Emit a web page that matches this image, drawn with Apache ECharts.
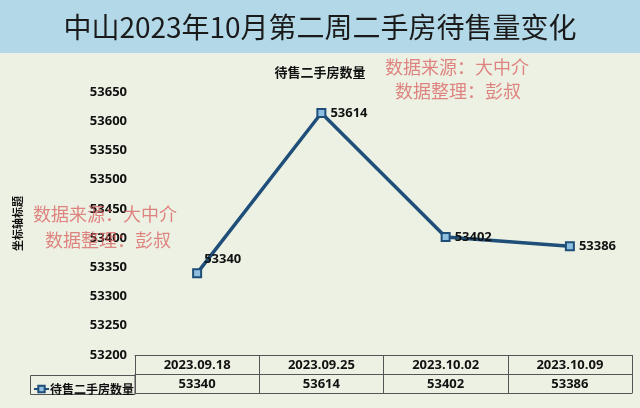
<!DOCTYPE html>
<html><head><meta charset="utf-8">
<script src="https://cdn.jsdelivr.net/npm/echarts@6/dist/echarts.min.js"></script>
<style>html,body{margin:0;padding:0;background:#edf1e3;}#c{width:640px;height:408px;}</style>
</head><body><div id="c"></div>
<script>
const categories = ['2023.09.18', '2023.09.25', '2023.10.02', '2023.10.09'];
const seriesName = '待售二手房数量';
const values = [53340, 53614, 53402, 53386];
const yTicks = { min: 53200, max: 53650, interval: 50 };
const mainTitle = '中山2023年10月第二周二手房待售量变化';
const yAxisTitle = '坐标轴标题';
const wm1 = '数据来源：大中介';
const wm2 = '数据整理：彭叔';

const chart = echarts.init(document.getElementById('c'));
const numFont = "'Open Sans', 'Noto Sans CJK SC', sans-serif";
const cjkFont = "'Noto Sans CJK SC', sans-serif";
const wmStyle = { fill: 'rgba(215,85,85,0.7)', fontSize: 18, fontFamily: cjkFont };

chart.setOption({
  backgroundColor: '#edf1e3',
  animation: false,
  title: [
    { text: mainTitle, left: 'center', top: 8,
      textStyle: { fontSize: 28, fontWeight: 'normal', color: '#1a1a1a', fontFamily: cjkFont } },
    { text: seriesName, left: 'center', top: 61,
      textStyle: { fontSize: 13, fontWeight: 'bold', color: '#111', fontFamily: cjkFont } }
  ],
  legend: {
    left: 28, top: 378, itemWidth: 15, itemHeight: 8, itemGap: 2,
    textStyle: { fontSize: 12, fontWeight: 'bold', color: '#111', fontFamily: cjkFont, padding: [0, 0, 0, -4] },
    data: [seriesName]
  },
  grid: { left: 135, right: 8, top: 92, bottom: 53, containLabel: false },
  xAxis: [
    { type: 'category', data: categories, position: 'bottom', boundaryGap: true,
      axisLine: { lineStyle: { color: '#555', width: 1 } },
      axisTick: { show: true, interval: 0, length: 38, lineStyle: { color: '#555' } },
      axisLabel: { interval: 0, margin: 4, fontSize: 13, fontWeight: 'bold', color: '#111', fontFamily: numFont },
      splitLine: { show: false } },
    { type: 'category', data: values.map(String), position: 'bottom', offset: 19,
      axisLine: { lineStyle: { color: '#555', width: 1 } },
      axisTick: { show: false },
      axisLabel: { interval: 0, margin: 4, fontSize: 13, fontWeight: 'bold', color: '#111', fontFamily: numFont } },
    { type: 'category', data: categories, position: 'bottom', offset: 38,
      axisLine: { lineStyle: { color: '#555', width: 1 } },
      axisTick: { show: false }, axisLabel: { show: false } }
  ],
  yAxis: {
    type: 'value', min: yTicks.min, max: yTicks.max, interval: yTicks.interval,
    name: yAxisTitle, nameLocation: 'middle', nameRotate: 90, nameGap: 112,
    nameTextStyle: { fontSize: 11, fontWeight: 'bold', color: '#111', fontFamily: cjkFont },
    axisLine: { show: false }, axisTick: { show: false }, splitLine: { show: false },
    axisLabel: { margin: 8, fontSize: 13, fontWeight: 'bold', color: '#111', fontFamily: numFont,
      formatter: v => String(v) }
  },
  series: [{
    name: seriesName, type: 'line', xAxisIndex: 0,
    data: values.map((v, i) => i === 0
      ? { value: v, label: { position: 'right', offset: [-2, -14] } }
      : v),
    symbol: 'rect', symbolSize: 8,
    itemStyle: { color: '#8fbfe0', borderColor: '#1f4e79', borderWidth: 2 },
    lineStyle: { color: '#1f4e79', width: 3.5 },
    label: { show: true, position: 'right', distance: 4, fontSize: 13, fontWeight: 'bold', color: '#111', fontFamily: numFont }
  }],
  graphic: [
    { type: 'rect', z: -10, silent: true, shape: { x: 0, y: 0, width: 640, height: 53 }, style: { fill: '#b3d8e7' } },
    { type: 'rect', silent: true, shape: { x: 30.5, y: 375.5, width: 104.5, height: 19 }, style: { fill: 'none', stroke: '#555', lineWidth: 1 } },
    { type: 'text', left: 385, top: 58, style: Object.assign({ text: wm1 }, wmStyle), z: 100 },
    { type: 'text', left: 395, top: 82, style: Object.assign({ text: wm2 }, wmStyle), z: 100 },
    { type: 'text', left: 33, top: 205, style: Object.assign({ text: wm1 }, wmStyle), z: 100 },
    { type: 'text', left: 45, top: 231, style: Object.assign({ text: wm2 }, wmStyle), z: 100 }
  ]
});
</script>
</body></html>
